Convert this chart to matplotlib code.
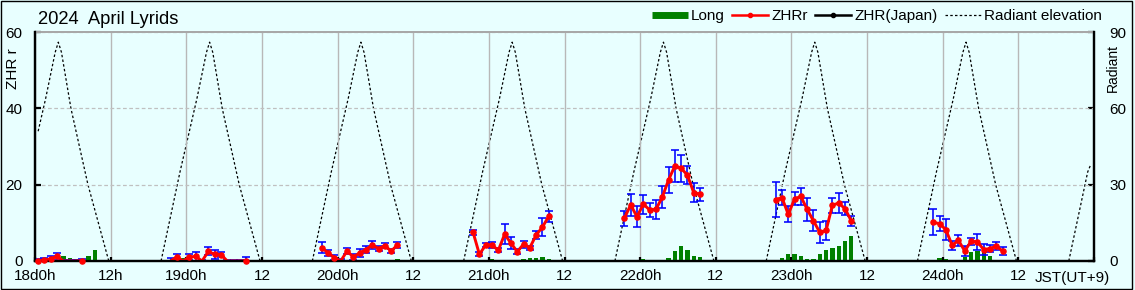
import numpy as np
import matplotlib
matplotlib.use('Agg')
import matplotlib.pyplot as plt
from matplotlib.lines import Line2D
from matplotlib.patches import Rectangle

# ---------------- data (hours counted from 18d 0h JST) ----------------
TICK_HOURS = list(range(0, 169, 12))
TICK_LABELS = ['18d0h', '12h', '19d0h', '12', '20d0h', '12', '21d0h', '12',
               '22d0h', '12', '23d0h', '12', '24d0h', '12', '']

# ZHRr: one list per night, hourly values starting at NIGHT_START
NIGHT_START = [0.5, 21.5, 45.5, 69.5, 93.5, 117.5, 142.5]
ZHR = [
    [0.1, 0.2, 0.6, 1.2, 0, 0, 0, 0.1],
    [0, 1.05, 0, 1.05, 1.2, 0, 2.5, 1.75, 1.7, 0, 0, 0, 0.1],
    [3.5, 2.1, 0.9, 0, 2.6, 1.05, 2.1, 3.0, 4.2, 3.25, 4.0, 2.6, 4.2],
    [7.5, 1.75, 4.2, 4.2, 2.8, 7.0, 4.7, 2.45, 4.4, 3.5, 6.8, 8.9, 11.7],
    [11.2, 14.7, 11.6, 14.9, 13.4, 13.5, 16.7, 21.2, 24.9, 24.3, 22.5, 17.9, 17.5],
    [16.1, 16.6, 12.2, 16.3, 16.9, 13.5, 10.5, 7.5, 8.0, 14.6, 15.2, 13.7, 10.5],
    [10.1, 9.8, 8.2, 4.1, 5.4, 2.6, 5.2, 5.0, 3.0, 3.25, 3.9, 2.6],
]
ZHR_ERR = [
    [0.3, 0.5, 0.8, 0.9, 0.3, 0.3, 0.3, 0.3],
    [0.9, 0.8, 0.3, 0.7, 1.2, 0.3, 1.05, 1.1, 0.7, 0.3, 0.3, 0.3, 0.9],
    [1.4, 0.8, 0.7, 0.4, 0.7, 0.8, 1.0, 1.0, 1.0, 0.6, 0.6, 0.6, 0.7],
    [0.6, 0.5, 0.6, 0.9, 0.5, 2.6, 1.6, 0.6, 0.9, 0.5, 1.05, 2.4, 1.4],
    [2.0, 2.9, 2.7, 2.5, 1.75, 2.4, 2.9, 3.4, 4.1, 3.5, 2.3, 2.5, 1.7],
    [4.5, 2.05, 2.1, 1.75, 2.3, 2.9, 2.75, 2.7, 2.5, 2.0, 2.5, 1.75, 1.3],
    [3.4, 2.0, 2.8, 1.2, 1.4, 1.3, 0.9, 2.05, 1.35, 1.0, 1.0, 1.1],
]

# "Long" bars: hourly values starting at LONG_START
LONG_START = [4.5, 23.5, 57.5, 71.5, 94.5, 118.5, 142.5]
LONG = [
    [1.2, 0.9, 0.5, 0, 1.2, 2.8],
    [0.9],
    [0.6],
    [0.2, 0.5, 0.26, 0.26, 0.2, 0.2, 0.5, 0.7, 0.87, 1.05, 0.5],
    [0.26, 0.35, 0.6, 0.26, 0, 0.26, 0.87, 2.6, 3.9, 2.9, 1.3, 1.05],
    [0.8, 1.75, 1.75, 1.2, 0.5, 0.5, 1.8, 2.9, 3.3, 3.8, 5.2, 6.5],
    [0.35, 0.87, 0.45, 0, 0, 1.05, 2.3, 2.5, 2.3, 1.2],
]

# Radiant elevation (deg), segments above the horizon
RAD_T = [
    [0.5, 1.7, 3.2, 3.7, 4.2, 5.7, 8.4, 11.7],
    [20.0, 23.0, 25.7, 27.2, 27.7, 28.2, 29.7, 32.4, 35.7],
    [44.0, 47.0, 49.7, 51.2, 51.7, 52.2, 53.7, 56.4, 59.7],
    [68.0, 71.0, 73.7, 75.2, 75.7, 76.2, 77.7, 80.4, 83.7],
    [92.0, 95.0, 97.7, 99.2, 99.7, 100.2, 101.7, 104.4, 107.7],
    [116.0, 119.0, 121.7, 123.2, 123.7, 124.2, 125.7, 128.4, 131.7],
    [140.0, 143.0, 145.7, 147.2, 147.7, 148.2, 149.7, 152.4, 155.7],
    [164.0, 167.0, 167.5],
]
RAD_E = [
    [51, 64, 82, 86, 82, 60, 30, 0],
    [0, 35, 64, 82, 86, 82, 60, 30, 0],
    [0, 35, 64, 82, 86, 82, 60, 30, 0],
    [0, 35, 64, 82, 86, 82, 60, 30, 0],
    [0, 35, 64, 82, 86, 82, 60, 30, 0],
    [0, 35, 64, 82, 86, 82, 60, 30, 0],
    [0, 35, 64, 82, 86, 82, 60, 30, 0],
    [0, 35, 38],
]

# ---------------- figure ----------------
BG = '#E8FFFF'
plt.rcParams['font.family'] = ['Liberation Sans', 'DejaVu Sans']

W, H = 1135, 290
fig = plt.figure(figsize=(W / 100, H / 100), dpi=100, facecolor=BG)
L, R, B, T = 35, 1094, 261, 32
ax = fig.add_axes([L / W, 1 - B / H, (R - L) / W, (B - T) / H])
ax2 = ax.twinx()
ax.set_zorder(2)
ax2.set_zorder(1)
ax.patch.set_visible(False)
ax2.patch.set_visible(True)
ax2.patch.set_facecolor(BG)

ax.set_xlim(0, 168)
ax.set_ylim(0, 60)
ax2.set_ylim(0, 90)

# grid
ax.set_xticks(TICK_HOURS)
ax.set_xticklabels(TICK_LABELS)
ax.set_yticks([0, 20, 40, 60])
ax2.set_yticks([0, 30, 60, 90])
ax.xaxis.grid(True, color='#b8b8b8', lw=1.0, ls='-')
ax.yaxis.grid(True, color='#c0c0c0', lw=0.9, ls=(0, (3, 2)))
ax.set_axisbelow(True)

for a in (ax, ax2):
    for s in ('left', 'right', 'bottom'):
        a.spines[s].set_color('black')
        a.spines[s].set_linewidth(1.6)
        a.spines[s].set_zorder(3)
    a.spines['top'].set_color('#a8a8a8')
    a.spines['top'].set_linewidth(1.4)

ax.tick_params(axis='x', direction='in', length=3, width=1.6, color='black',
               pad=6, labelsize=11)
ax.tick_params(axis='y', direction='in', length=4, width=1.6, color='black',
               pad=9, labelsize=11)
ax2.tick_params(axis='y', direction='in', length=4, width=1.6, color='black',
                pad=11, labelsize=11)

# radiant elevation
for t, e in zip(RAD_T, RAD_E):
    ax2.plot(t, e, color='black', lw=0.9, ls=(0, (2.0, 1.8)), zorder=2)

# Long bars
for st, vals in zip(LONG_START, LONG):
    ts = st + np.arange(len(vals))
    ax.bar(ts, vals, width=0.68, color='#008000', zorder=1.5)

# ZHRr with error bars (line below the axis frame, dots above it)
for st, z, e in zip(NIGHT_START, ZHR, ZHR_ERR):
    ts = st + np.arange(len(z))
    ax.errorbar(ts, z, yerr=e, fmt='none', ecolor='#0000FF', elinewidth=1.15,
                capsize=2.7, capthick=1.15, zorder=2)
    ax.plot(ts, z, '-', color='#FF0000', lw=2.1, zorder=2.2)
    shown = [i for i, v in enumerate(z) if v > 0]
    ax.plot(ts, z, 'o', color='#FF0000', ms=3.7, markevery=shown,
            zorder=5, clip_on=False)

# texts
fig.text(38 / W, 1 - 19 / H, '2024  April Lyrids', fontsize=13.2, va='center', ha='left')
fig.text(13 / W, 1 - 69 / H, 'ZHR r', rotation=90, fontsize=11, va='center', ha='center')
fig.text(1113 / W, 1 - 68 / H, 'Radiant', rotation=90, fontsize=10, va='center', ha='center')
fig.text(1072 / W, 1 - 278 / H, 'JST(UT+9)', fontsize=11, va='center', ha='center')

# legend
handles = [
    Line2D([], [], color='#008000', lw=5, solid_capstyle='butt'),
    Line2D([], [], color='#FF0000', lw=1.8, marker='o', ms=3),
    Line2D([], [], color='black', lw=1.8, marker='o', ms=3),
    Line2D([], [], color='black', lw=0.9, ls=(0, (2.0, 1.8))),
]
labels = ['Long', 'ZHRr', 'ZHR(Japan)', 'Radiant elevation']
fig.legend(handles, labels, loc='center right', bbox_to_anchor=(1102 / W, 1 - 16 / H),
           ncol=4, frameon=False, fontsize=11, handlelength=2.35,
           handletextpad=0.2, columnspacing=0.5, borderpad=0, borderaxespad=0)

# figure border
fig.patches.append(Rectangle((0.5 / W, 1.5 / H), 1131.5 / W, 287.5 / H,
                             transform=fig.transFigure, fill=False,
                             ec='black', lw=1.0))

fig.savefig('out.png', dpi=100, facecolor=BG)
